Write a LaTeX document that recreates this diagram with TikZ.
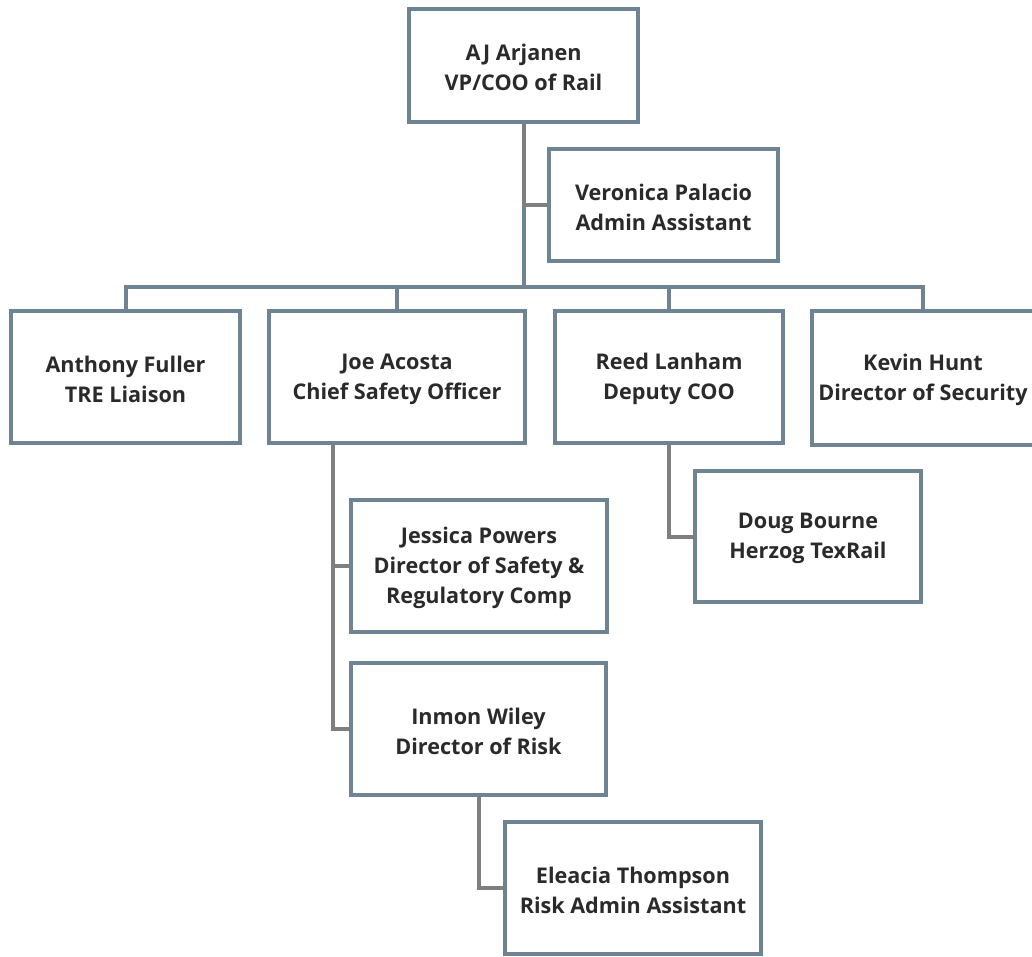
\documentclass[tikz,border=0pt]{standalone}
\usepackage{fontspec}
\setmainfont{Open Sans}
\definecolor{boxc}{HTML}{6F8492}
\definecolor{grayc}{HTML}{7F7F7F}
\definecolor{txtc}{HTML}{2A2A2A}
\tikzset{
  person/.style={draw=boxc, line width=4pt, fill=white, inner sep=0pt},
  ptext/.style={inner sep=0pt, align=center, text=txtc, yshift=-2pt,
    font=\fontsize{21.6}{30}\selectfont\bfseries},
  graylink/.style={draw=grayc, line width=4pt},
  buslink/.style={draw=boxc, line width=4pt},
}
\begin{document}
\begin{tikzpicture}[x=1pt,y=-1pt]
\useasboundingbox (0,0) rectangle (1032,956);
\clip (0,0) rectangle (1032,956);
\fill[white] (0,0) rectangle (1032,956);
% boxes
\node[person, minimum width=229pt, minimum height=113pt] (aj) at (523.5,65.5) {};
\node[person, minimum width=229pt, minimum height=112pt] (ver) at (663.5,205) {};
\node[person, minimum width=229pt, minimum height=132pt] (anth) at (125.5,377) {};
\node[person, minimum width=256pt, minimum height=132pt] (joe) at (397,377) {};
\node[person, minimum width=228pt, minimum height=132pt] (reed) at (669,377) {};
\node[person, minimum width=222pt, minimum height=134pt] (kevin) at (923,378) {};
\node[person, minimum width=256pt, minimum height=132pt] (jess) at (479,566) {};
\node[person, minimum width=255pt, minimum height=132pt] (inm) at (478.5,729) {};
\node[person, minimum width=226pt, minimum height=131pt] (doug) at (808,536.5) {};
\node[person, minimum width=256pt, minimum height=132pt] (elea) at (633,888) {};
% texts
\node[ptext] (ajt) at (aj.center) {AJ Arjanen\\VP/COO of Rail};
\node[ptext] (vert) at (ver.center) {Veronica Palacio\\Admin Assistant};
\node[ptext] (antht) at (anth.center) {Anthony Fuller\\TRE Liaison};
\node[ptext] (joet) at (joe.center) {Joe Acosta\\Chief Safety Officer};
\node[ptext] (reedt) at (reed.center) {Reed Lanham\\Deputy COO};
\node[ptext] (kevint) at (kevin.center) {Kevin Hunt\\Director of Security};
\node[ptext] (jesst) at (jess.center) {Jessica Powers\\Director of Safety \&\\Regulatory Comp};
\node[ptext] (inmt) at (inm.center) {Inmon Wiley\\Director of Risk};
\node[ptext] (dougt) at (doug.center) {Doug Bourne\\Herzog TexRail};
\node[ptext] (eleat) at (elea.center) {Eleacia Thompson\\Risk Admin Assistant};
% connectors
\coordinate (busl) at (0,287);
\coordinate (jx) at (333,0);
\draw[graylink] (aj.south) -- (aj.south |- ver.west) -- (ver.west);
\draw[buslink] ([yshift=-2pt]aj.south |- ver.west) -- (aj.south |- busl);
\draw[buslink] (anth.north) -- (anth.north |- busl) -- (kevin.north |- busl) -- (kevin.north);
\draw[buslink] (joe.north) -- (joe.north |- busl);
\draw[buslink] (reed.north) -- (reed.north |- busl);
\draw[graylink] (joe.south -| jx) -- (inm.west -| jx) -- (inm.west);
\draw[graylink] (jess.west -| jx) -- (jess.west);
\draw[graylink] (reed.south) -- (reed.south |- doug.west) -- (doug.west);
\draw[graylink] (inm.south) -- (inm.south |- elea.west) -- (elea.west);
\end{tikzpicture}
\end{document}
